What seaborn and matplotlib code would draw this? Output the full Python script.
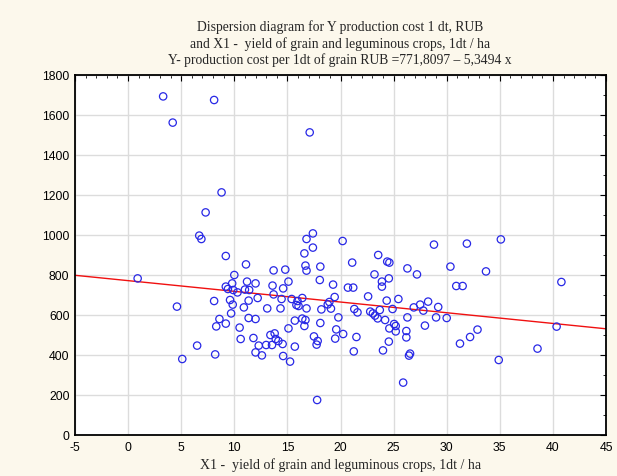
import numpy as np
import pandas as pd
import matplotlib
matplotlib.use("Agg")
import matplotlib.pyplot as plt
import seaborn as sns
from matplotlib.ticker import MultipleLocator

# ---- data ----
x1 = [0.9, 3.3, 4.2, 4.6, 5.1, 6.5, 6.7, 6.9, 7.3, 8.1, 8.8, 9.2, 8.1, 8.2, 8.6, 8.3, 9.2,
      9.2, 9.4, 9.8, 10.0, 9.6, 9.85, 9.7, 10.3, 9.9, 10.5, 10.6, 10.9, 11.1, 11.2, 11.0,
      11.4, 11.35, 11.35, 11.8, 12.0, 12.0, 12.0, 12.2, 12.3, 12.6, 13.7, 14.8, 16.7, 16.8,
      18.1, 21.1, 23.55, 24.4, 24.6, 23.2, 26.3, 27.2, 28.8, 17.4, 16.8, 17.4, 16.6, 20.2,
      17.1, 13.6, 14.6, 15.1, 13.7, 14.45, 15.4, 15.95, 16.4, 18.05, 19.3, 19.45, 20.7, 21.2,
      22.6, 23.9, 23.9, 24.55, 25.45, 24.35, 13.1, 14.35, 15.85, 16.05, 16.8, 18.2, 18.8,
      18.95, 19.1, 21.3, 21.6, 22.8, 23.05, 23.25, 23.5, 23.7, 24.9, 26.9, 27.5, 27.8, 28.25,
      29.2, 26.3, 29.0, 13.4, 13.8, 13.9, 14.15, 13.0, 13.55, 14.55, 14.6, 15.25, 15.7, 15.1,
      15.7, 16.4, 16.7, 16.6, 18.1, 17.5, 17.85, 17.75, 17.8, 19.8, 19.6, 19.5, 20.25, 21.5,
      21.25, 24.2, 24.6, 25.05, 25.2, 25.2, 24.55, 24.0, 26.2, 26.2, 26.45, 26.55, 25.9,
      27.95, 31.9, 35.1, 30.35, 33.7, 30.9, 31.5, 40.8, 30.0, 31.25, 32.2, 32.9, 34.9, 38.55,
      40.35]
y_cost = [783, 1693, 1562, 642, 380, 447, 997, 980, 1113, 1675, 1213, 895, 670, 403, 580, 543,
          557, 742, 730, 758, 800, 675, 652, 608, 713, 725, 537, 480, 638, 853, 767, 727, 725,
          672, 585, 485, 413, 580, 758, 685, 447, 398, 823, 827, 847, 822, 842, 862, 900, 867,
          862, 803, 833, 803, 952, 1008, 980, 937, 908, 970, 1513, 747, 733, 767, 703, 680, 680,
          670, 685, 775, 752, 690, 737, 737, 693, 767, 742, 783, 680, 672, 633, 633, 650, 645,
          633, 628, 653, 665, 632, 630, 613, 617, 608, 597, 583, 625, 630, 638, 652, 622, 667,
          640, 588, 588, 500, 508, 480, 470, 450, 450, 455, 395, 367, 442, 533, 572, 582, 575,
          545, 560, 493, 470, 452, 175, 588, 528, 482, 505, 490, 418, 575, 533, 555, 545, 518,
          467, 423, 520, 488, 397, 407, 262, 547, 957, 978, 842, 818, 745, 745, 765, 585, 457,
          490, 527, 375, 432, 542]

intercept = 771.8097
slope = -5.3494
line_x = [-5, 45]

title_lines = ["Dispersion diagram for Y production cost 1 dt, RUB",
               "and X1 -  yield of grain and leguminous crops, 1dt / ha",
               "Y- production cost per 1dt of grain RUB =771,8097 \u2013 5,3494 x"]
x_label = "X1 -  yield of grain and leguminous crops, 1dt / ha"

df = pd.DataFrame({"x": x1, "y": y_cost})
line_df = pd.DataFrame({"x": line_x, "y": [intercept + slope * v for v in line_x]})

sns.set_style("white")
plt.rcParams["font.family"] = ["Liberation Sans", "DejaVu Sans"]
plt.rcParams["axes.unicode_minus"] = False

bg = "#fcf8ec"
fig = plt.figure(figsize=(6.17, 4.77), dpi=100, facecolor=bg)
ax = fig.add_axes([75 / 617, 1 - 436 / 477, 531 / 617, 360 / 477])
ax.set_facecolor("white")

sns.lineplot(data=line_df, x="x", y="y", ax=ax, color="#f01010", linewidth=1.0, zorder=2)
sns.scatterplot(data=df, x="x", y="y", ax=ax, marker="o", s=28, facecolors="none",
                edgecolor="#2828e6", linewidth=0.9, zorder=3)

ax.set_xlim(-5, 45)
ax.set_ylim(0, 1800)
ax.xaxis.set_major_locator(MultipleLocator(5))
ax.xaxis.set_minor_locator(MultipleLocator(1))
ax.yaxis.set_major_locator(MultipleLocator(200))
ax.yaxis.set_minor_locator(MultipleLocator(100))
ax.grid(True, which="major", color="#dcdcdc", linewidth=1.0, zorder=0)
ax.set_axisbelow(True)
ax.tick_params(which="both", direction="in", top=True, right=True, colors="black",
               labelsize=8.8)
ax.tick_params(which="major", length=4, width=0.8)
ax.tick_params(which="minor", length=2.5, width=0.6)
ax.tick_params(axis="x", pad=4)
ax.tick_params(axis="y", pad=4)
for sp in ax.spines.values():
    sp.set_color("black")
    sp.set_linewidth(1.3)

ax.set_xlabel(x_label, family=["Liberation Serif", "DejaVu Serif"], fontsize=10, labelpad=3)
ax.set_ylabel("")

fig.text(340 / 617, 1 - 44 / 477, "\n".join(title_lines), ha="center", va="center",
         family=["Liberation Serif", "DejaVu Serif"], fontsize=9.8, linespacing=1.25)

fig.savefig("out.png", dpi=100, facecolor=bg)
